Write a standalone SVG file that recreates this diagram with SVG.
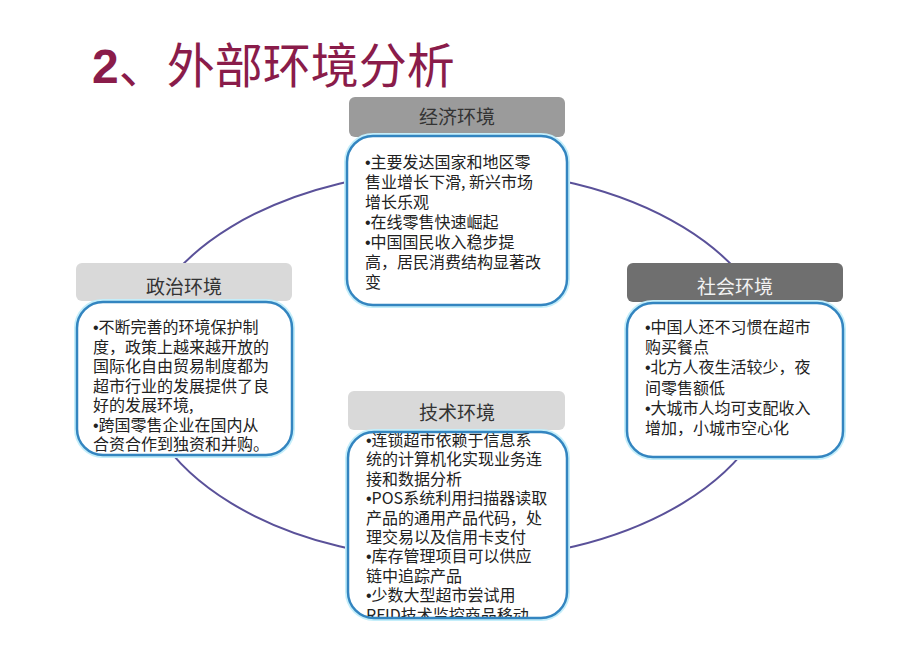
<svg xmlns="http://www.w3.org/2000/svg" width="920" height="651" viewBox="0 0 920 651">
<style>
.title{font-family:"Noto Sans CJK SC","Liberation Sans",sans-serif;font-size:48px;fill:#8a1c4a}
.two{font-family:"Liberation Sans",Arial,sans-serif;font-weight:bold}
.hdr{font-family:"Noto Sans CJK SC",sans-serif;font-size:19px;text-anchor:middle;fill:#333}
.body{font-family:"Noto Sans CJK SC",sans-serif;font-size:16px;fill:#222}
.b{font-family:"Liberation Sans",Arial,sans-serif}
.glow{fill:none;stroke:#c4eefa;stroke-width:6}
.edge{fill:none;stroke:#3385c0;stroke-width:2.5}
.fillw{fill:#fff}
.conn{fill:none;stroke:#5a5199;stroke-width:2}
</style>
<defs>
<clipPath id="clipTech"><rect x="340" y="380" width="240" height="238"/></clipPath>
</defs>
<rect width="920" height="651" fill="#fff"/>
<text class="title" x="92" y="83"><tspan class="two">2</tspan>、外部环境分析</text>

<g id="connectors">
<ellipse class="conn" cx="457" cy="365" rx="320" ry="195"/>
</g>

<g id="econ">
<rect x="349" y="97" width="216" height="40" rx="6" fill="#9b9b9b"/>
<text class="hdr" x="457" y="124">经济环境</text>
<rect class="glow" x="347" y="136" width="220" height="169" rx="26"/>
<rect class="fillw" x="347" y="136" width="220" height="169" rx="26"/>
<rect class="edge" x="347" y="136" width="220" height="169" rx="26"/>
<text class="body">
<tspan x="365" y="168"><tspan class="b">•</tspan>主要发达国家和地区零</tspan>
<tspan x="365" y="188">售业增长下滑, 新兴市场</tspan>
<tspan x="365" y="208">增长乐观</tspan>
<tspan x="365" y="228"><tspan class="b">•</tspan>在线零售快速崛起</tspan>
<tspan x="365" y="248"><tspan class="b">•</tspan>中国国民收入稳步提</tspan>
<tspan x="365" y="268">高，居民消费结构显著改</tspan>
<tspan x="365" y="288">变</tspan>
</text>
</g>

<g id="politics">
<rect x="76" y="263" width="216" height="38" rx="6" fill="#d9d9d9"/>
<text class="hdr" x="184" y="294">政治环境</text>
<rect class="glow" x="77" y="302" width="215" height="153" rx="26"/>
<rect class="fillw" x="77" y="302" width="215" height="153" rx="26"/>
<rect class="edge" x="77" y="302" width="215" height="153" rx="26"/>
<text class="body">
<tspan x="93" y="333"><tspan class="b">•</tspan>不断完善的环境保护制</tspan>
<tspan x="93" y="352.5">度，政策上越来越开放的</tspan>
<tspan x="93" y="372">国际化自由贸易制度都为</tspan>
<tspan x="93" y="391.5">超市行业的发展提供了良</tspan>
<tspan x="93" y="411">好的发展环境,</tspan>
<tspan x="93" y="430.5"><tspan class="b">•</tspan>跨国零售企业在国内从</tspan>
<tspan x="93" y="450">合资合作到独资和并购。</tspan>
</text>
</g>

<g id="society">
<rect x="627" y="263" width="216" height="39" rx="6" fill="#6f6f6f"/>
<text class="hdr" x="735" y="294" style="fill:#f2f2f2">社会环境</text>
<rect class="glow" x="627" y="303" width="216" height="154" rx="26"/>
<rect class="fillw" x="627" y="303" width="216" height="154" rx="26"/>
<rect class="edge" x="627" y="303" width="216" height="154" rx="26"/>
<text class="body">
<tspan x="645" y="333"><tspan class="b">•</tspan>中国人还不习惯在超市</tspan>
<tspan x="645" y="353.2">购买餐点</tspan>
<tspan x="645" y="373.4"><tspan class="b">•</tspan>北方人夜生活较少，夜</tspan>
<tspan x="645" y="393.6">间零售额低</tspan>
<tspan x="645" y="413.8"><tspan class="b">•</tspan>大城市人均可支配收入</tspan>
<tspan x="645" y="434">增加，小城市空心化</tspan>
</text>
</g>

<g id="tech">
<rect x="348" y="391" width="217" height="39" rx="6" fill="#d9d9d9"/>
<text class="hdr" x="457" y="420">技术环境</text>
<rect class="glow" x="348" y="432" width="219" height="186" rx="26"/>
<rect class="fillw" x="348" y="432" width="219" height="186" rx="26"/>
<g clip-path="url(#clipTech)">
<text class="body">
<tspan x="366" y="446"><tspan class="b">•</tspan>连锁超市依赖于信息系</tspan>
<tspan x="366" y="465.4">统的计算机化实现业务连</tspan>
<tspan x="366" y="484.8">接和数据分析</tspan>
<tspan x="366" y="504.2"><tspan class="b">•</tspan>POS系统利用扫描器读取</tspan>
<tspan x="366" y="523.6">产品的通用产品代码，处</tspan>
<tspan x="366" y="543">理交易以及信用卡支付</tspan>
<tspan x="366" y="562.4"><tspan class="b">•</tspan>库存管理项目可以供应</tspan>
<tspan x="366" y="581.8">链中追踪产品</tspan>
<tspan x="366" y="601.2"><tspan class="b">•</tspan>少数大型超市尝试用</tspan>
<tspan x="366" y="620.6">RFID技术监控商品移动</tspan>
</text>
</g>
<rect class="edge" x="348" y="432" width="219" height="186" rx="26"/>
</g>
</svg>
